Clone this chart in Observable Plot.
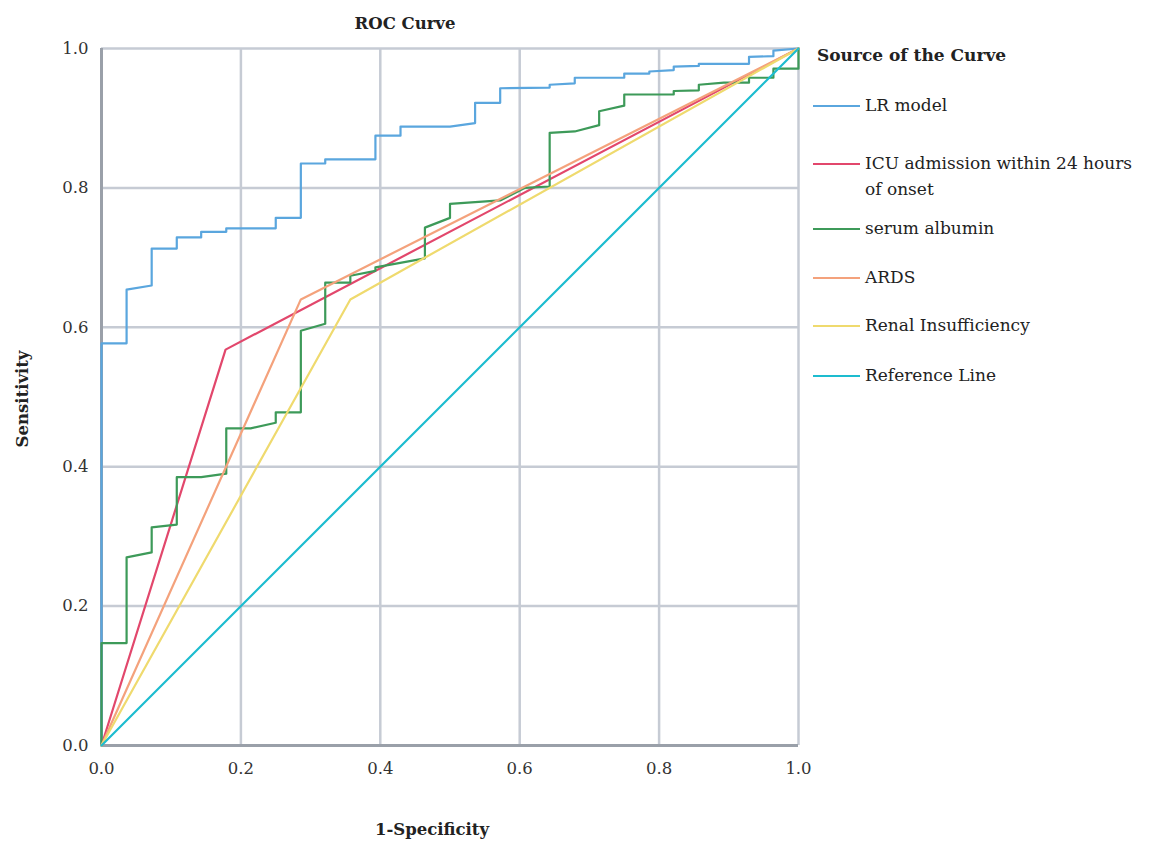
<!DOCTYPE html>
<html>
<head>
<meta charset="utf-8">
<script src="https://cdn.jsdelivr.net/npm/d3@7"></script>
<script src="https://cdn.jsdelivr.net/npm/@observablehq/plot@0.6"></script>
<style>
  html, body { margin: 0; padding: 0; background: #fff; }
  #wrap { position: relative; width: 1150px; height: 843px; font-family: "DejaVu Serif", serif; color: #222; }
  #wrap svg { position: absolute; left: 0; top: 0; }
  .abs { position: absolute; white-space: nowrap; }
  .title { font-weight: bold; font-size: 16px; }
  .leg-line { position: absolute; height: 0; border-top: 2.5px solid; width: 47px; }
  .leg-text { position: absolute; font-size: 17px; line-height: 26px; color: #222; }
</style>
</head>
<body>
<div id="wrap"></div>
<script>
// ---------- Data ----------
const seriesNames = ["LR model", "ICU admission within 24 hours of onset", "serum albumin", "ARDS", "Renal Insufficiency", "Reference Line"];
const seriesColors = ["#5aa6de", "#e2476c", "#3d9a59", "#f4a27c", "#efda6e", "#1dbccf"];

const lrModel = [
  [0,0],[0,0.577],[0.036,0.577],[0.036,0.654],[0.072,0.660],[0.072,0.713],[0.108,0.713],
  [0.108,0.729],[0.143,0.729],[0.143,0.737],[0.179,0.737],[0.179,0.742],[0.250,0.742],
  [0.250,0.757],[0.286,0.757],[0.286,0.835],[0.321,0.835],[0.321,0.841],[0.393,0.841],
  [0.393,0.875],[0.429,0.875],[0.429,0.888],[0.500,0.888],[0.536,0.893],[0.536,0.922],
  [0.572,0.922],[0.572,0.943],[0.643,0.944],[0.643,0.948],[0.679,0.950],[0.679,0.958],
  [0.750,0.958],[0.750,0.964],[0.786,0.964],[0.786,0.967],[0.821,0.969],[0.821,0.974],
  [0.857,0.975],[0.857,0.978],[0.929,0.978],[0.929,0.988],[0.964,0.989],[0.964,0.997],[1,1]
];
const icuAdmission = [[0,0],[0.178,0.568],[1,1]];
const serumAlbumin = [
  [0,0],[0,0.147],[0.036,0.147],[0.036,0.270],[0.072,0.277],[0.072,0.313],[0.108,0.317],
  [0.108,0.385],[0.143,0.385],[0.179,0.390],[0.179,0.455],[0.214,0.455],[0.250,0.463],
  [0.250,0.478],[0.286,0.478],[0.286,0.595],[0.321,0.605],[0.321,0.664],[0.357,0.664],
  [0.357,0.674],[0.393,0.681],[0.393,0.686],[0.464,0.699],[0.464,0.743],[0.500,0.757],
  [0.500,0.777],[0.572,0.782],[0.607,0.800],[0.643,0.802],[0.643,0.879],[0.679,0.881],
  [0.714,0.890],[0.714,0.910],[0.750,0.918],[0.750,0.934],[0.821,0.934],[0.821,0.939],
  [0.857,0.940],[0.857,0.948],[0.893,0.951],[0.929,0.951],[0.929,0.958],[0.964,0.958],
  [0.964,0.971],[1,0.971],[1,1]
];
const ards = [[0,0],[0.286,0.640],[1,1]];
const renalInsufficiency = [[0,0],[0.357,0.640],[1,1]];
const referenceLine = [[0,0],[1,1]];

const tickValues = [0, 0.2, 0.4, 0.6, 0.8, 1.0];

// ---------- Build table ----------
const seriesData = [lrModel, icuAdmission, serumAlbumin, ards, renalInsufficiency, referenceLine];
const rows = [];
seriesData.forEach((pts, i) => pts.forEach(([x, y]) => rows.push({series: seriesNames[i], x, y})));

const chart = Plot.plot({
  width: 1150,
  height: 843,
  marginLeft: 101,
  marginRight: 352,
  marginTop: 48,
  marginBottom: 98,
  x: {domain: [0, 1]},
  y: {domain: [0, 1]},
  color: {domain: seriesNames, range: seriesColors},
  style: {fontFamily: "DejaVu Serif", fontSize: "16.5px", color: "#333", background: "transparent"},
  marks: [
    Plot.gridX(tickValues, {stroke: "#c6cbd4", strokeOpacity: 1, strokeWidth: 2.5}),
    Plot.gridY(tickValues, {stroke: "#c6cbd4", strokeOpacity: 1, strokeWidth: 2.5}),
    Plot.ruleX([0], {stroke: "#9aa0a9", strokeWidth: 3}),
    Plot.ruleY([0], {stroke: "#9aa0a9", strokeWidth: 3}),
    Plot.axisX(tickValues, {tickSize: 0, tickPadding: 17, tickFormat: d => d.toFixed(1), label: null, fill: "#333"}),
    Plot.axisY(tickValues, {tickSize: 0, tickPadding: 13, tickFormat: d => d.toFixed(1), label: null, fill: "#333"}),
    Plot.line(rows, {x: "x", y: "y", z: "series", stroke: "series", strokeWidth: 2.2, curve: "linear"})
  ]
});

const wrap = document.getElementById("wrap");
wrap.appendChild(chart);

function addText(txt, cls, style) {
  const d = document.createElement("div");
  d.className = "abs " + cls;
  d.textContent = txt;
  Object.assign(d.style, style);
  wrap.appendChild(d);
  return d;
}
// Title & axis labels
addText("ROC Curve", "title", {left: "405px", top: "14px", transform: "translateX(-50%)", fontSize: "16.5px"});
addText("1-Specificity", "title", {left: "432px", top: "820px", transform: "translateX(-50%)", fontSize: "16.5px"});
addText("Sensitivity", "title", {left: "22px", top: "399px", transform: "translate(-50%,-50%) rotate(-90deg)", fontSize: "16.5px"});

// Legend
addText("Source of the Curve", "title", {left: "817px", top: "45px", fontSize: "17px"});
const legendY = [106, 164, 229, 278, 326, 376];
seriesNames.forEach((name, i) => {
  const ln = document.createElement("div");
  ln.className = "leg-line";
  ln.style.left = "813px";
  ln.style.top = (legendY[i] - 1) + "px";
  ln.style.borderTopColor = seriesColors[i];
  wrap.appendChild(ln);
  const t = document.createElement("div");
  t.className = "leg-text";
  t.style.left = "865px";
  t.style.top = (legendY[i] - 14) + "px";
  if (i === 1) {
    t.innerHTML = "ICU admission within 24 hours<br>of onset";
  } else {
    t.textContent = name;
  }
  wrap.appendChild(t);
});
</script>
</body>
</html>
